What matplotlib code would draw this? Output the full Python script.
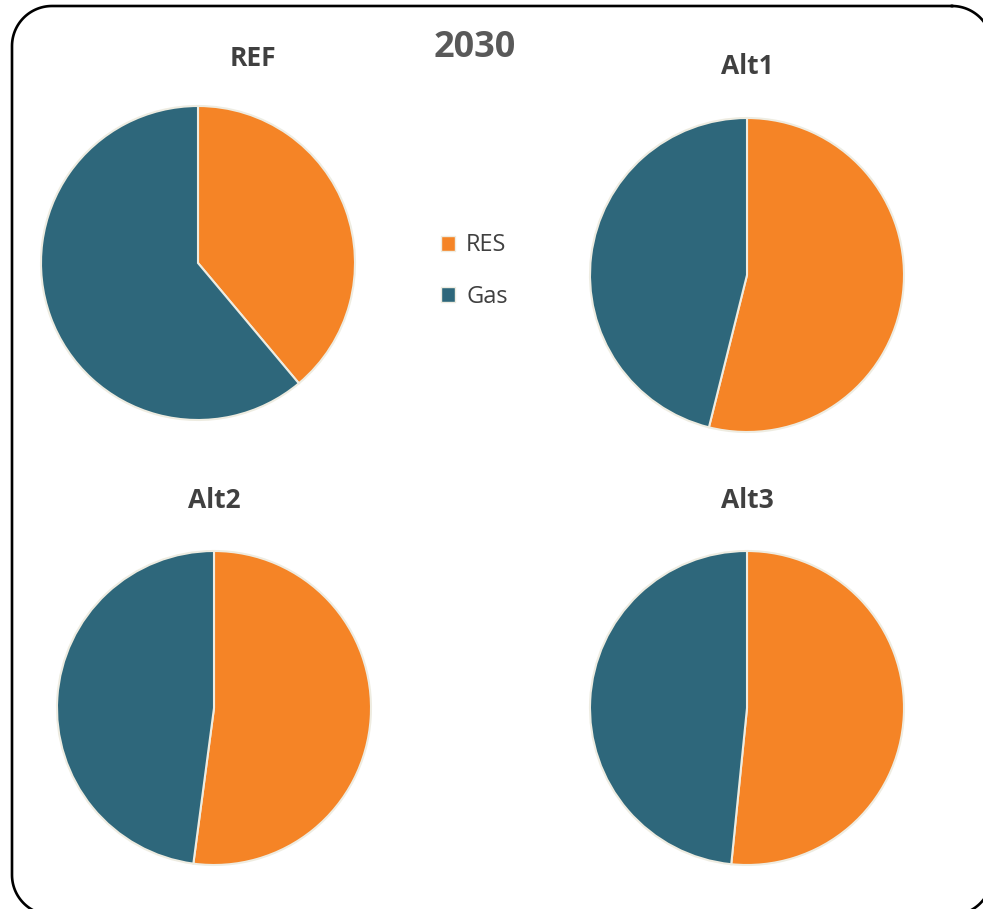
import numpy as np
import matplotlib.pyplot as plt
from matplotlib.patches import Patch

# data (share of RES / Gas in 2030)
scenarios = ['REF', 'Alt1', 'Alt2', 'Alt3']
res_share = [38.9, 53.9, 52.1, 51.6]
gas_share = [61.1, 46.1, 47.9, 48.4]
labels = ['RES', 'Gas']
colors = ['#F58426', '#2E677B']

W, H = 983, 909
fig = plt.figure(figsize=(W / 100, H / 100), dpi=100)
plt.rcParams['font.family'] = ['Open Sans', 'DejaVu Sans']

# pie centres and title positions in pixels (from top-left)
centres = [(198, 263), (747, 275), (214, 708), (747, 708)]
title_pos = [(253, 58), (747, 66), (214, 500), (747, 500)]
r = 157

# rounded frame, drawn as a polyline (pixel coords, y from top)
bg = fig.add_axes([0, 0, 1, 1])
bg.set_xlim(0, W)
bg.set_ylim(H, 0)
bg.axis('off')
x0, x1, y0, y1, rc = 12, 992, 6, 915, 40
t = np.linspace(0, np.pi / 2, 30)
fx, fy = [], []
for (cx, cy, a0) in [(x1 - rc, y0 + rc, -np.pi / 2), (x1 - rc, y1 - rc, 0),
                     (x0 + rc, y1 - rc, np.pi / 2), (x0 + rc, y0 + rc, np.pi)]:
    fx += list(cx + rc * np.cos(a0 + t))
    fy += list(cy + rc * np.sin(a0 + t))
fx.append(fx[0])
fy.append(fy[0])
bg.plot(fx, fy, color='black', lw=1.9, clip_on=False, solid_joinstyle='round')

for name, res, gas, (cx, cy), (tx, ty) in zip(scenarios, res_share, gas_share, centres, title_pos):
    ax = fig.add_axes([(cx - r) / W, 1 - (cy + r) / H, 2 * r / W, 2 * r / H])
    ax.pie([res, gas], colors=colors, startangle=90, counterclock=False,
           wedgeprops=dict(edgecolor='#EEECE1', linewidth=1.5))
    ax.set_xlim(-1, 1)
    ax.set_ylim(-1, 1)
    fig.text(tx / W, 1 - ty / H, name, ha='center', va='center',
             fontsize=19, fontweight='bold', color='#404040')

fig.text(475 / W, 1 - 48 / H, '2030', ha='center', va='center',
         fontsize=26, fontweight='bold', color='#595959')

handles = [Patch(facecolor=c, edgecolor='#EEECE1', linewidth=1) for c in colors]
fig.legend(handles, labels, loc='center left', bbox_to_anchor=(420 / W, 1 - 271 / H),
           frameon=False, fontsize=17, labelcolor='#404040',
           handlelength=0.6, handleheight=0.6, handletextpad=0.45, labelspacing=1.15)

fig.savefig('out.png', dpi=100)
